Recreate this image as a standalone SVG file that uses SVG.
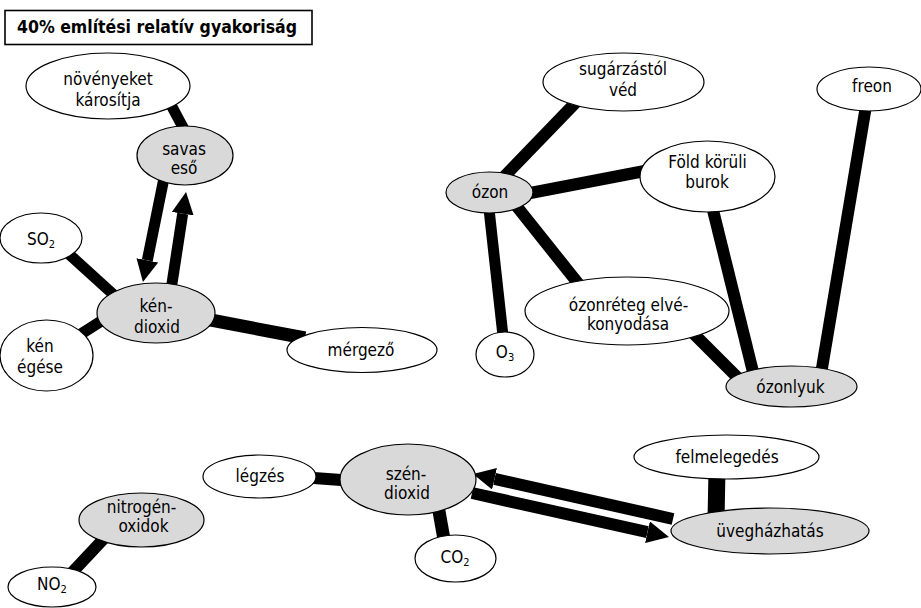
<svg xmlns="http://www.w3.org/2000/svg" width="921" height="608" viewBox="0 0 921 608">
<style>
.n ellipse{fill:#fff;stroke:#000;stroke-width:1.2}
.g ellipse{fill:#d9d9d9}
text{font-family:"DejaVu Sans Condensed","DejaVu Sans",sans-serif;font-stretch:condensed;font-size:17px;text-anchor:middle;fill:#000}
.sub{font-size:11px}
.c line{stroke:#000;stroke-width:11;stroke-linecap:butt}
.title{font-weight:bold;text-anchor:start;font-size:17.5px}
</style>
<defs>
<marker id="ah" markerUnits="userSpaceOnUse" viewBox="0 0 22 22" markerWidth="22" markerHeight="22" refX="0" refY="11" orient="auto">
<path d="M0,0 L22,11 L0,22 z" fill="#000"/>
</marker>
</defs>
<rect width="921" height="608" fill="#fff"/>
<g id="title">
<rect x="5" y="10.5" width="307" height="34" fill="#fff" stroke="#000" stroke-width="1.6"/>
<text class="title" x="17" y="33">40% említési relatív gyakoriság</text>
</g>
<g id="connectors" class="c">
<line x1="170" y1="103" x2="186" y2="133"/>
<line x1="60" y1="246" x2="125" y2="305"/>
<line x1="70" y1="341" x2="117" y2="311"/>
<line x1="195" y1="317" x2="305" y2="338" style="stroke-width:13"/>
<line x1="164" y1="178" x2="147.3" y2="260.4" marker-end="url(#ah)"/>
<line x1="171" y1="290" x2="182.7" y2="213.7" marker-end="url(#ah)"/>
<line x1="500" y1="181" x2="582" y2="96" style="stroke-width:12"/>
<line x1="520" y1="195" x2="655" y2="169" style="stroke-width:12"/>
<line x1="510" y1="198" x2="585" y2="292" style="stroke-width:12"/>
<line x1="488" y1="200" x2="504" y2="345"/>
<line x1="690" y1="330" x2="745" y2="385" style="stroke-width:12"/>
<line x1="710" y1="198" x2="755" y2="380" style="stroke-width:12"/>
<line x1="867" y1="100" x2="820" y2="380" style="stroke-width:12"/>
<line x1="65" y1="580" x2="112" y2="530" style="stroke-width:12"/>
<line x1="300" y1="477" x2="355" y2="481" style="stroke-width:12"/>
<line x1="437" y1="500" x2="445" y2="545" style="stroke-width:13"/>
<line x1="717" y1="470" x2="716" y2="520" style="stroke-width:17"/>
<line x1="673" y1="519" x2="494.5" y2="478.8" style="stroke-width:12" marker-end="url(#ah)"/>
<line x1="472" y1="493" x2="647.5" y2="532.2" style="stroke-width:12" marker-end="url(#ah)"/>
</g>
<g id="n-novenyeket" class="n"><ellipse cx="108" cy="86" rx="82" ry="33"/><text x="108" y="85">növényeket</text><text x="108" y="106">károsítja</text></g>
<g id="n-savas" class="n g"><ellipse cx="185" cy="155.5" rx="48" ry="29.5"/><text x="184" y="155">savas</text><text x="184" y="174">eső</text></g>
<g id="n-so2" class="n"><ellipse cx="41" cy="238" rx="41" ry="25"/><text x="41" y="245">SO<tspan class="sub" dy="3">2</tspan></text></g>
<g id="n-kendioxid" class="n g"><ellipse cx="156" cy="313" rx="59" ry="30"/><text x="156" y="312">kén-</text><text x="157" y="333">dioxid</text></g>
<g id="n-kenegese" class="n"><ellipse cx="46.5" cy="355.5" rx="46.5" ry="35.5"/><text x="40" y="352">kén</text><text x="40" y="373">égése</text></g>
<g id="n-mergezo" class="n"><ellipse cx="362" cy="350" rx="75" ry="22.5"/><text x="361" y="356">mérgező</text></g>
<g id="n-sugarzas" class="n"><ellipse cx="623.5" cy="82" rx="80.5" ry="29"/><text x="623" y="75">sugárzástól</text><text x="623" y="96">véd</text></g>
<g id="n-freon" class="n"><ellipse cx="869" cy="89" rx="52" ry="22"/><text x="872" y="92">freon</text></g>
<g id="n-fold" class="n"><ellipse cx="707.5" cy="176.5" rx="67.5" ry="35.5"/><text x="707.5" y="168">Föld körüli</text><text x="707" y="188">burok</text></g>
<g id="n-ozon" class="n g"><ellipse cx="489.5" cy="192.5" rx="43.5" ry="20.5"/><text x="490" y="198">ózon</text></g>
<g id="n-ozonreteg" class="n"><ellipse cx="627" cy="311" rx="102" ry="34"/><text x="628.5" y="311">ózonréteg elvé-</text><text x="628" y="330">konyodása</text></g>
<g id="n-o3" class="n"><ellipse cx="505" cy="354.5" rx="29" ry="22.5"/><text x="505" y="358">O<tspan class="sub" dy="3">3</tspan></text></g>
<g id="n-ozonlyuk" class="n g"><ellipse cx="791.5" cy="386.5" rx="65.5" ry="20.5"/><text x="790.5" y="393">ózonlyuk</text></g>
<g id="n-nitrogen" class="n g"><ellipse cx="141.5" cy="520" rx="62.5" ry="27"/><text x="141.5" y="513">nitrogén-</text><text x="143.5" y="532">oxidok</text></g>
<g id="n-no2" class="n"><ellipse cx="52" cy="587" rx="44" ry="20"/><text x="52" y="590">NO<tspan class="sub" dy="3">2</tspan></text></g>
<g id="n-legzes" class="n"><ellipse cx="259.5" cy="476.5" rx="56.5" ry="21.5"/><text x="260" y="482">légzés</text></g>
<g id="n-szendioxid" class="n g"><ellipse cx="408" cy="479.5" rx="68" ry="35.5"/><text x="406" y="480">szén-</text><text x="407" y="499">dioxid</text></g>
<g id="n-co2" class="n"><ellipse cx="455.5" cy="558.5" rx="40.5" ry="23.5"/><text x="455" y="563">CO<tspan class="sub" dy="3">2</tspan></text></g>
<g id="n-felmelegedes" class="n"><ellipse cx="726.5" cy="457" rx="92.5" ry="22"/><text x="727" y="463">felmelegedés</text></g>
<g id="n-uveghaz" class="n g"><ellipse cx="770" cy="531" rx="99" ry="23"/><text x="770" y="537">üvegházhatás</text></g>
</svg>
